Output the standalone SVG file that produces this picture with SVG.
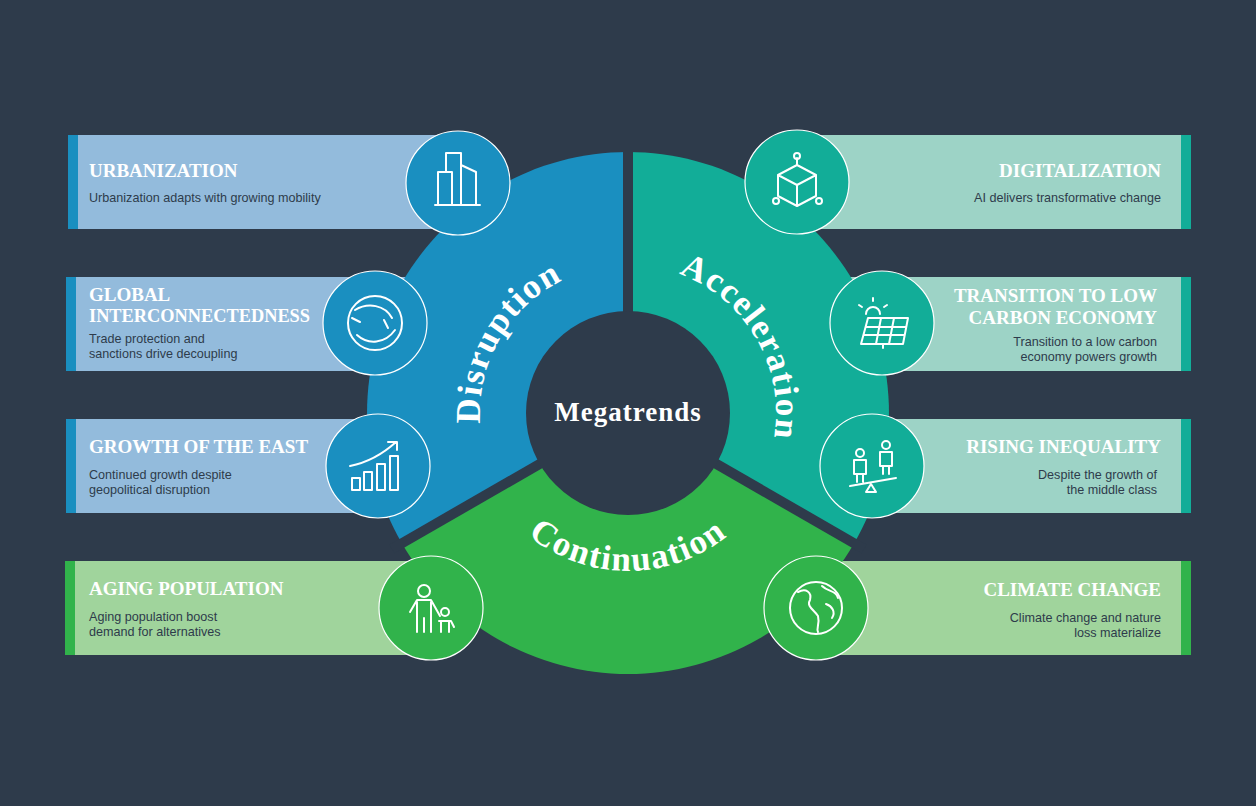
<svg xmlns="http://www.w3.org/2000/svg" width="1256" height="806" viewBox="0 0 1256 806">
<defs>
<style>
.t{font-family:"Liberation Serif",serif;font-weight:bold;font-size:19px;fill:#fff}
.s{font-family:"Liberation Sans",Arial,sans-serif;font-size:12.6px;fill:#2e3b4b}
.r{text-anchor:end}
.arc{font-family:"Liberation Serif",serif;font-weight:bold;font-size:35px;fill:#fff;letter-spacing:1.5px}
.ic{fill:none;stroke:#fff;stroke-width:2;stroke-linecap:round;stroke-linejoin:round}
.cb{fill:#1a8fc0;stroke:#fff;stroke-width:1.2}
.ct{fill:#12ad98;stroke:#fff;stroke-width:1.2}
.cg{fill:#31b34b;stroke:#fff;stroke-width:1.2}
</style>
<path id="pd" d="M499.8,487 A148 148 0 0 1 628,265"/>
<path id="pa" d="M628,265 A148 148 0 0 1 756.2,487"/>
<path id="pc" d="M491.2,492 A158 158 0 0 0 764.8,492"/>
</defs>
<rect width="1256" height="806" fill="#2e3b4b"/>
<g id="cards">
<rect x="68" y="135" width="400" height="94" fill="#93bbdc"/><rect x="68" y="135" width="10" height="94" fill="#1a8fc0"/>
<rect x="66" y="277" width="380" height="94" fill="#93bbdc"/><rect x="66" y="277" width="10" height="94" fill="#1a8fc0"/>
<rect x="66" y="419" width="380" height="94" fill="#93bbdc"/><rect x="66" y="419" width="10" height="94" fill="#1a8fc0"/>
<rect x="65" y="561" width="380" height="94" fill="#a0d49c"/><rect x="65" y="561" width="10" height="94" fill="#31b34b"/>
<rect x="790" y="135" width="401" height="94" fill="#9dd3c6"/><rect x="1181" y="135" width="10" height="94" fill="#12ad98"/>
<rect x="820" y="277" width="371" height="94" fill="#9dd3c6"/><rect x="1181" y="277" width="10" height="94" fill="#12ad98"/>
<rect x="820" y="419" width="371" height="94" fill="#9dd3c6"/><rect x="1181" y="419" width="10" height="94" fill="#12ad98"/>
<rect x="815" y="561" width="376" height="94" fill="#a0d49c"/><rect x="1181" y="561" width="10" height="94" fill="#31b34b"/>
</g>
<g id="ring">
<path d="M628,413 L402,543.5 A261 261 0 0 1 628,152 Z" fill="#1a8fc0"/>
<path d="M628,413 L628,152 A261 261 0 0 1 854,543.5 Z" fill="#12ad98"/>
<path d="M628,413 L854,543.5 A261 261 0 0 1 402,543.5 Z" fill="#31b34b"/>
<g stroke="#2e3b4b" stroke-width="10">
<line x1="628" y1="413" x2="628" y2="140"/>
<line x1="628" y1="413" x2="392" y2="549"/>
<line x1="628" y1="413" x2="864" y2="549"/>
</g>
<circle cx="628" cy="413" r="102" fill="#2e3b4b"/>
<text class="arc"><textPath href="#pd" startOffset="50%" text-anchor="middle">Disruption</textPath></text>
<text class="arc"><textPath href="#pa" startOffset="50%" text-anchor="middle">Acceleration</textPath></text>
<text class="arc"><textPath href="#pc" startOffset="50%" text-anchor="middle">Continuation</textPath></text>
<text x="628" y="421" text-anchor="middle" font-family="Liberation Serif,serif" font-weight="bold" font-size="27" letter-spacing="1" fill="#fff">Megatrends</text>
</g>
<g id="texts">
<text class="t" x="89" y="177">URBANIZATION</text><text class="s" x="89" y="202">Urbanization adapts with growing mobility</text>
<text class="t" x="89" y="301">GLOBAL</text><text class="t" x="89" y="322" textLength="221" lengthAdjust="spacingAndGlyphs">INTERCONNECTEDNESS</text>
<text class="s" x="89" y="343">Trade protection and</text><text class="s" x="89" y="358">sanctions drive decoupling</text>
<text class="t" x="89" y="453">GROWTH OF THE EAST</text>
<text class="s" x="89" y="479">Continued growth despite</text><text class="s" x="89" y="494">geopolitical disruption</text>
<text class="t" x="89" y="595">AGING POPULATION</text>
<text class="s" x="89" y="621">Aging population boost</text><text class="s" x="89" y="636">demand for alternatives</text>
<text class="t r" x="1161" y="177">DIGITALIZATION</text><text class="s r" x="1161" y="202">AI delivers transformative change</text>
<text class="t r" x="1157" y="302">TRANSITION TO LOW</text><text class="t r" x="1157" y="324">CARBON ECONOMY</text>
<text class="s r" x="1157" y="346">Transition to a low carbon</text><text class="s r" x="1157" y="361">economy powers growth</text>
<text class="t r" x="1161" y="453">RISING INEQUALITY</text>
<text class="s r" x="1157" y="479">Despite the growth of</text><text class="s r" x="1157" y="494">the middle class</text>
<text class="t r" x="1161" y="596">CLIMATE CHANGE</text>
<text class="s r" x="1161" y="622">Climate change and nature</text><text class="s r" x="1161" y="637">loss materialize</text>
</g>
<g id="n-urban"><circle class="cb" cx="458" cy="183" r="52"/>
<path class="ic" d="M435,205 H480 M438,205 V172 H452 V205 M446,172 V153 H461 V205 M461,165 L476,172 V205"/></g>
<g id="n-global"><circle class="cb" cx="375" cy="323" r="52"/>
<circle class="ic" cx="375" cy="323" r="27"/><path class="ic" d="M355,310 C368,302 385,305 392,318 M395,330 C385,344 368,345 357,335 M352,318 l8,4 M388,328 l-4,-8"/></g>
<g id="n-growth"><circle class="cb" cx="378" cy="466" r="52"/>
<path class="ic" d="M352,478 h8 v12 h-8 z M364,472 h8 v18 h-8 z M377,464 h8 v26 h-8 z M390,456 h8 v34 h-8 z M350,466 C370,462 385,452 396,442 M388,442 h9 v8"/></g>
<g id="n-aging"><circle class="cg" cx="431" cy="608" r="52"/>
<circle class="ic" cx="424" cy="591" r="6"/><path class="ic" d="M410,612 l7,-12 h14 l9,16 M417,602 v30 M431,602 v30 M424,618 v14"/><circle class="ic" cx="445" cy="612" r="4"/><path class="ic" d="M439,621 h12 l3,6 M441,621 v11 M449,621 v11"/></g>
<g id="n-digital"><circle class="ct" cx="797" cy="182" r="52"/>
<path class="ic" d="M778,175 L797,165 L816,175 V196 L797,206 L778,196 Z M778,175 L797,185 L816,175 M797,185 V206 M797,165 V158"/><circle class="ic" cx="797" cy="156" r="3"/><circle class="ic" cx="776" cy="201" r="3"/><circle class="ic" cx="819" cy="201" r="3"/></g>
<g id="n-transition"><circle class="ct" cx="882" cy="323" r="52"/>
<path class="ic" d="M868,318 h40 l-5,26 h-42 z M866,327 h40 M864,335 h40 M881,318 l-5,26 M894,318 l-5,26 M883,344 v4"/><path class="ic" d="M866,314 a7,7 0 0 1 14,0 M873,301 v-3 M862,307 l-3,-2 M884,307 l3,-2"/></g>
<g id="n-rising"><circle class="ct" cx="872" cy="466" r="52"/>
<circle class="ic" cx="860" cy="453" r="4"/><circle class="ic" cx="886" cy="445" r="4"/><path class="ic" d="M854,460 h12 v14 h-12 z M880,452 h12 v14 h-12 z M857,474 v8 M863,474 v8 M883,466 v8 M889,466 v8 M850,486 L896,478 M871,484 l-5,8 h10 z"/></g>
<g id="n-climate"><circle class="cg" cx="816" cy="608" r="52"/>
<circle class="ic" cx="816" cy="608" r="26"/><path class="ic" d="M798,592 c8,-4 14,0 12,8 c-4,6 4,10 8,16 c2,8 -2,12 0,16 M822,586 c6,6 14,4 16,12 M826,604 c6,2 10,8 6,14"/></g>
</svg>
